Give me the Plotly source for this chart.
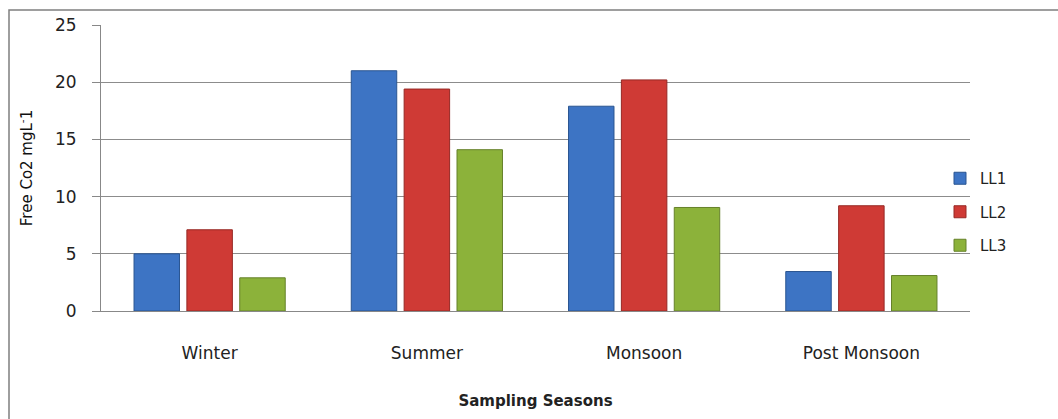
import plotly.graph_objects as go

seasons = ["Winter", "Summer", "Monsoon", "Post Monsoon"]
ll1 = [5.0, 21.0, 17.9, 3.45]
ll2 = [7.1, 19.4, 20.2, 9.2]
ll3 = [2.9, 14.1, 9.05, 3.1]
series_names = ["LL1", "LL2", "LL3"]
colors = ["#3d74c4", "#cf3a35", "#8cb23a"]
line_colors = ["#2a5591", "#962824", "#65812a"]

L, R, T, B = 101, 88, 25, 108
W, H = 1058, 419
pw, ph = W - L - R, H - T - B

fig = go.Figure()
for name, vals, c, lc in zip(series_names, [ll1, ll2, ll3], colors, line_colors):
    fig.add_trace(go.Bar(x=seasons, y=vals, name=name, legendgroup=name,
                         marker=dict(color=c, line=dict(color=lc, width=1))))

font = "'DejaVu Sans', sans-serif"
fig.update_layout(
    width=W, height=H,
    margin=dict(l=L, r=R, t=T, b=B),
    paper_bgcolor="white", plot_bgcolor="white",
    barmode="group", bargap=0.27, bargroupgap=0.14,
    font=dict(family=font, size=16, color="#222"),
    showlegend=True,
    legend=dict(x=(940 - L) / pw, xanchor="left", y=(H - B - 212) / ph, yanchor="middle",
                bgcolor="rgba(0,0,0,0)", traceorder="grouped", tracegroupgap=11,
                font=dict(size=15, color="#222")),
    xaxis=dict(showline=True, linecolor="#888", linewidth=1, ticks="",
               ticklabelstandoff=27, tickfont=dict(size=17),
               title=dict(text="<b>Sampling Seasons</b>", standoff=33,
                          font=dict(size=15, color="#222"))),
    yaxis=dict(range=[0, 25], dtick=5, showgrid=True, gridcolor="#8c8c8c", gridwidth=1,
               showline=True, linecolor="#888", ticks="outside", ticklen=8, tickcolor="#888",
               ticklabelstandoff=12, tickfont=dict(size=17), zeroline=False,
               title=dict(text="Free Co2 mgL<sup>-</sup>1", standoff=18,
                          font=dict(size=15, color="#111"))),
    shapes=[dict(type="rect", xref="paper", yref="paper",
                 x0=(9 - L) / pw, x1=(1070 - L) / pw,
                 y0=(H - B - 430) / ph, y1=(H - B - 10) / ph,
                 line=dict(color="#7f7f7f", width=1.5), fillcolor="rgba(0,0,0,0)",
                 layer="below")],
)
fig.write_html("out.html")
